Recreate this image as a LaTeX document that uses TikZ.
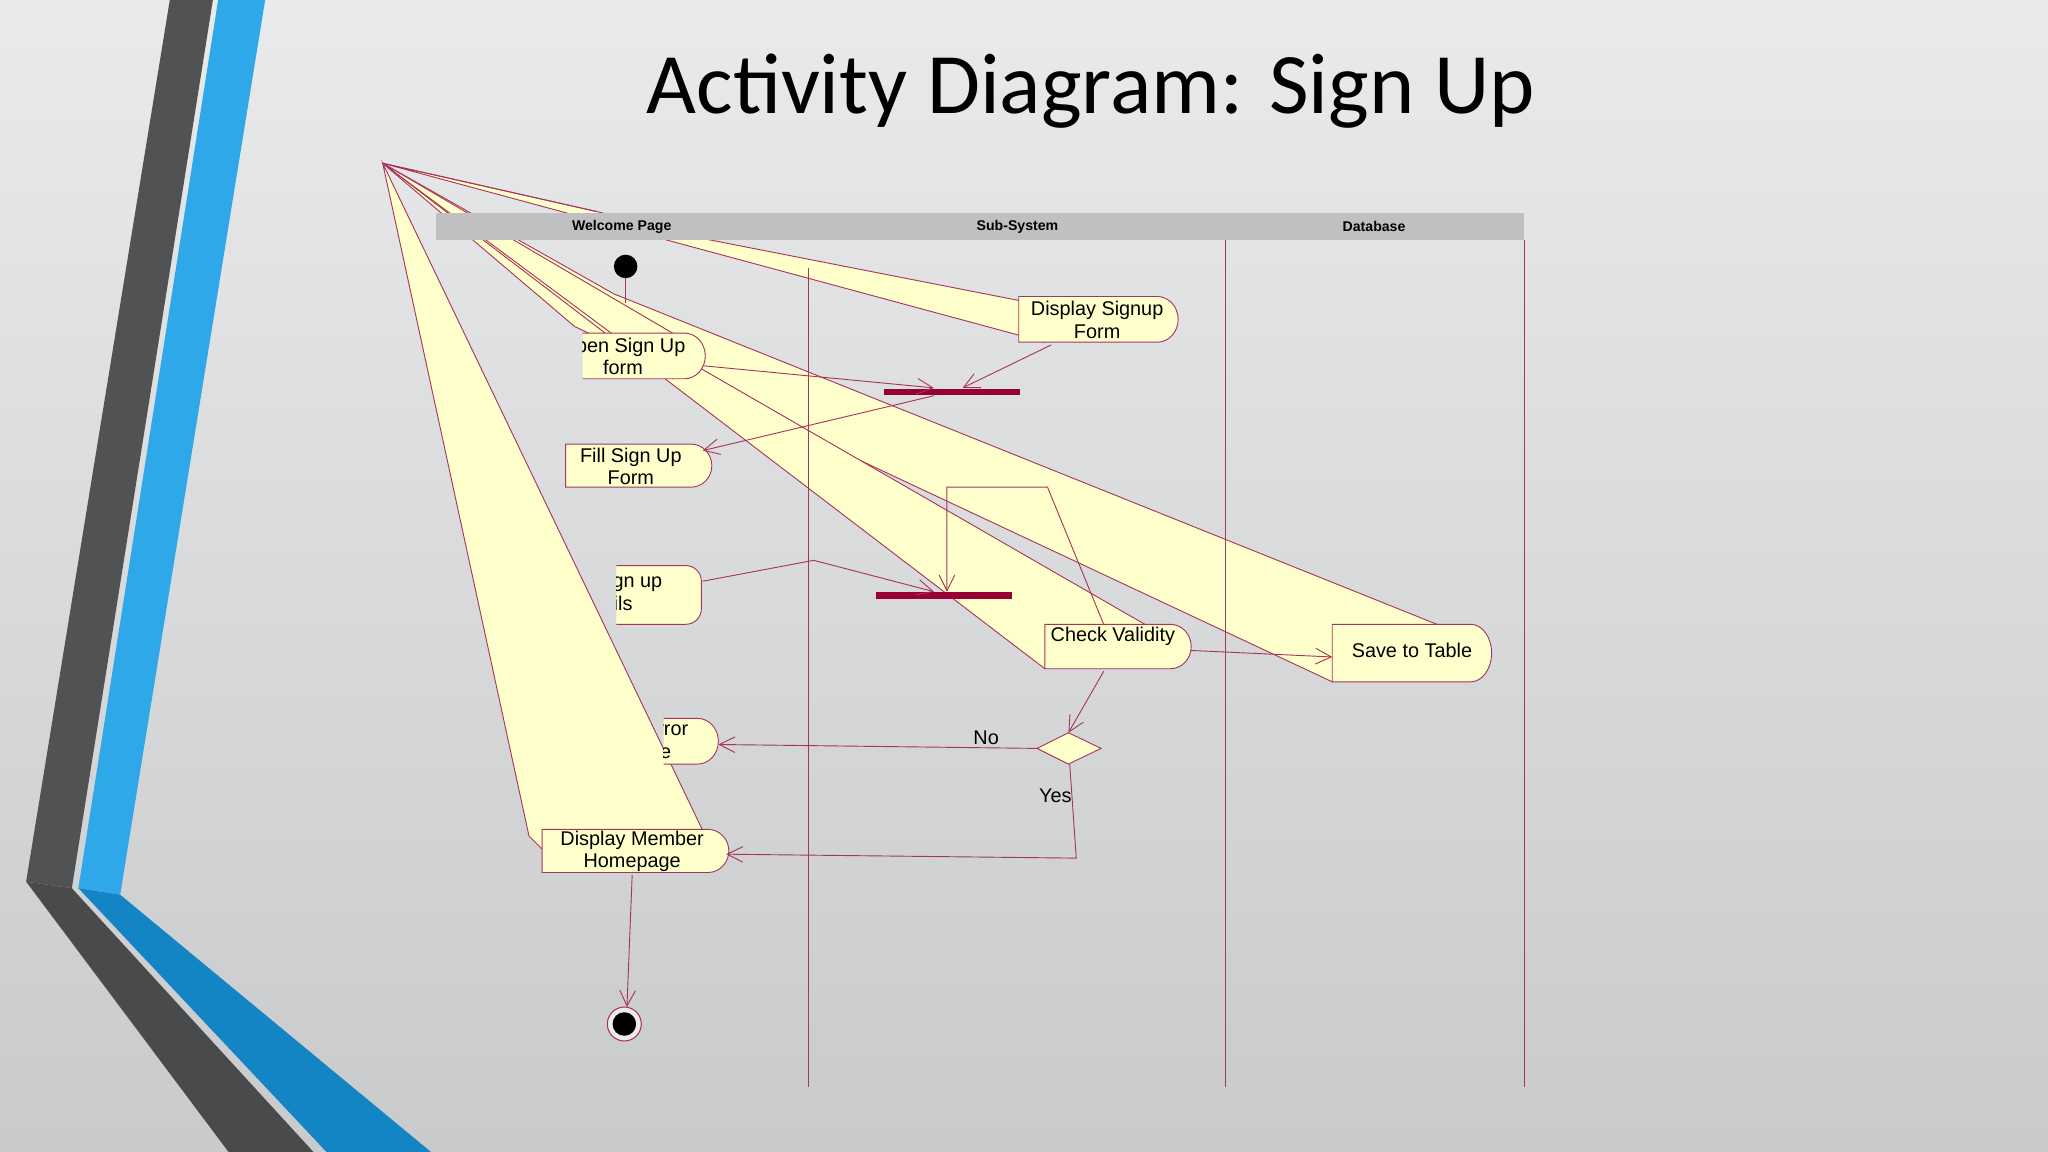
\documentclass[tikz,border=0pt]{standalone}
\usepackage{fontspec}
\setmainfont{Liberation Sans}
\newfontfamily\titlefont{Carlito}
\usetikzlibrary{arrows.meta}
\definecolor{bgA}{HTML}{E9EAEC}
\definecolor{bgB}{HTML}{C9CACC}
\definecolor{yel}{HTML}{FFFFCC}
\definecolor{mar}{HTML}{A8335C}
\definecolor{barc}{HTML}{990033}
\definecolor{hdr}{HTML}{C0C0C2}
\definecolor{dgray}{HTML}{505254}
\definecolor{blu}{HTML}{2EA8E8}
\definecolor{dblu}{HTML}{1384C4}
\begin{document}
\begin{tikzpicture}[x=0.5pt,y=-0.5pt,
  ln/.style={draw=mar,line width=0.35pt},
  arr/.style={ln,-{Straight Barb[length=6pt,width=6pt]}},
  act/.style={fill=yel,draw=mar,line width=0.35pt},
  lbl/.style={font=\fontsize{7.6}{8.6}\selectfont,align=center,inner sep=0},
  wedge/.style={fill=yel,draw=mar,line width=0.35pt}]
\useasboundingbox (0,0) rectangle (1568,882);
\shade[top color=bgA,bottom color=bgB] (0,0) rectangle (1568,882);
% decorative stripes
\fill[dgray] (130,0) -- (163,0) -- (55,680) -- (20,675) -- cycle;
\fill[blu] (167,0) -- (203,0) -- (92,685) -- (60,680) -- cycle;
\fill[dgray!90!black] (20,675) -- (55,680) -- (240,882) -- (175,882) -- cycle;
\fill[dblu] (60,680) -- (92,685) -- (330,882) -- (250,882) -- cycle;
\node[font=\titlefont\fontsize{33}{36}\selectfont] (title) at (835,70) {Activity Diagram: Sign Up};
\coordinate (A) at (293,125);
% wedges
\path[wedge] (A) -- (457,162) -- (540,183) -- (790,232) -- (880,228) -- (800,262) -- cycle;
\path[wedge] (A) -- (470,225) -- (1130,490) -- (1020,522) -- (440,250) -- cycle;
\path[wedge] (A) -- (420,215) -- (880,480) -- (800,512) -- cycle;
\path[wedge] (A) -- (540,640) -- (430,665) -- (405,640) -- cycle;
\path[wedge] (A) -- (520,258) -- (515,290) -- cycle;
% header
\fill[hdr] (334,163) rectangle (1167,184);
\draw[ln] (A) -- (457,162);
\node[font=\bfseries\fontsize{5.4}{6}\selectfont] (l1) at (476,173.5) {Welcome Page};
\node[font=\bfseries\fontsize{5.4}{6}\selectfont] (l2) at (779,173.5) {Sub-System};
\node[font=\bfseries\fontsize{5.4}{6}\selectfont] (l3) at (1052,173.5) {Database};
\draw[ln] (619,205) -- (619,832);
\draw[ln] (938,184) -- (938,832);
\draw[ln] (1167,184) -- (1167,832);
% initial node
\fill (479,204) circle (9);
\draw[ln] (479,213) -- (479,232);
% activity nodes: flat left, rounded right
\newcommand{\actbox}[4]{\draw[act] (#1,#2) -- (#3-16,#2) arc[start angle=-90,end angle=90,x radius=16,y radius={(#4-#2)/2}] -- (#1,#4) -- cycle;}
\actbox{780}{227}{902}{262}
\node[lbl] (disp) at (840,245) {Display Signup\\Form};
\begin{scope}\clip (446,240) rectangle (560,300);
\actbox{430}{255}{540}{290}
\node[lbl] (open) at (477,273) {Open Sign Up\\form};
\end{scope}
\actbox{433}{340}{545}{373}
\node[lbl] (fill) at (483,357) {Fill Sign Up\\Form};
\begin{scope}\clip (472,420) rectangle (560,490);
\draw[act,rounded corners=6pt] (430,433) rectangle (537,478);
\node[lbl] (enter) at (461,453) {Enter Sign up\\Details};
\end{scope}
\actbox{800}{478}{912}{512}
\node[lbl] (check) at (852,487) {Check Validity};
\actbox{1020}{478}{1142}{522}
\node[lbl] (save) at (1081,498) {Save to Table};
\begin{scope}\clip (508,540) rectangle (570,595);
\actbox{430}{550}{550}{585}
\node[lbl] (err) at (483,568) {Display Error\\Message};
\end{scope}
\actbox{415}{635}{558}{668}
\node[lbl] (home) at (484,652) {Display Member\\Homepage};
% bars
\fill[barc] (677,297.5) rectangle (781,302.5);
\fill[barc] (671,453.5) rectangle (775,458.5);
\coordinate (b1in1) at (715,297);
\coordinate (b1in2) at (737,297);
\coordinate (b1out) at (715,303);
\coordinate (b2in1) at (715,453);
\coordinate (b2in2) at (725,453);
% diamond
\draw[fill=yel,draw=mar,line width=0.35pt] (794,573) -- (818,561) -- (843,573) -- (818,585) -- cycle;
\coordinate (dl) at (794,573);
\coordinate (dt) at (818,561);
\coordinate (db) at (819,585);
% final
\draw[draw=mar,fill=white!85!gray] (478,784) circle (13);
\fill (478,784) circle (9);
\coordinate (fin) at (480,771);
% edges
\draw[arr] (538,280) -- (b1in1);
\draw[arr] (805,264) -- (b1in2);
\draw[arr] (b1out) -- (538,345);
\draw[arr] (538,445) -- (623,429) -- (b2in1);
\draw[arr] (845,478) -- (802,373) -- (725,373) -- (b2in2);
\draw[arr] (912,498) -- (1020,503);
\draw[arr] (845,514) -- (dt);
\draw[arr] (dl) -- (550,570);
\node[lbl] (no) at (755,565) {No};
\draw[arr] (db) -- (824,657) -- (556,654);
\node[lbl] (yes) at (808,609) {Yes};
\draw[arr] (484,670) -- (fin);
\end{tikzpicture}
\end{document}
